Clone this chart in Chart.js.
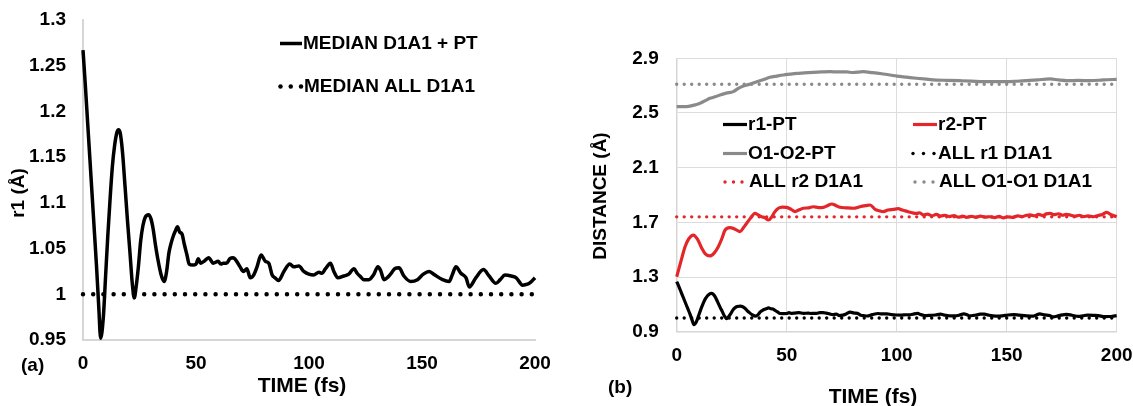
<!DOCTYPE html>
<html>
<head>
<meta charset="utf-8">
<script src="https://cdn.jsdelivr.net/npm/chart.js@4"></script>
<style>
  html, body { margin: 0; padding: 0; background: #fff; width: 1133px; height: 406px; overflow: hidden; }
  canvas { position: absolute; top: 0; }
  #panelA { left: 0; }
  #panelB { left: 560px; }
</style>
</head>
<body>
<canvas id="panelA" width="560" height="406"></canvas>
<canvas id="panelB" width="573" height="406"></canvas>
<script>
// ---- tick labels ----
const timeTicks = [0, 50, 100, 150, 200];
const r1Ticks = [0.95, 1, 1.05, 1.1, 1.15, 1.2, 1.25, 1.3];
const distTicks = [0.9, 1.3, 1.7, 2.1, 2.5, 2.9];

// ---- r1 (Å) vs time (fs), median D1A1 + PT ----
const r1Time = [0, 1, 2, 3, 4, 5, 6, 7, 7.8, 9, 10, 11, 12, 13, 14, 15, 15.7, 16.5, 17.5, 18.6,
  19.7, 20.8, 21.8, 22.7, 23.5, 24.5, 25.5, 26.5, 27.5, 29, 30, 31, 32, 33, 34.5, 35.9, 37, 38, 39, 40,
  41, 41.8, 42.8, 43.8, 44.8, 46, 47, 48.5, 50, 51, 52, 53.5, 55.6, 57.6, 59.8, 61, 62, 63.5, 65, 66.5,
  68, 69.5, 71, 72.5, 74, 75.5, 77, 78.8, 80.7, 82.2, 83.7, 85, 86.5, 88.9, 91.5, 93.3, 95.5, 97.7, 99.9, 102,
  104.4, 105.8, 107.3, 109.5, 111, 112.8, 115.4, 117.6, 119.9, 121.3, 122.5, 124.3, 126.5, 128.5, 130.5, 131.7, 133.2, 135, 136.4, 137.9,
  139.8, 142, 145, 148, 150.6, 153.2, 155.7, 159.1, 162, 163.5, 165, 167.2, 169.5, 170.9, 173.8, 177.2, 179.7, 182.7, 184.6, 186.7,
  189.4, 191.7, 194.5, 196.7, 198, 200];
const r1Value = [1.267, 1.23, 1.19, 1.15, 1.11, 1.07, 1.03, 0.985, 0.952, 0.975, 1.02, 1.065, 1.105, 1.14, 1.163, 1.177, 1.18, 1.176, 1.155, 1.118,
  1.08, 1.045, 1.012, 0.996, 1.008, 1.03, 1.058, 1.075, 1.084, 1.087, 1.083, 1.072, 1.055, 1.04, 1.022, 1.014, 1.025, 1.045, 1.056, 1.064,
  1.07, 1.074, 1.068, 1.066, 1.055, 1.043, 1.033, 1.032, 1.033, 1.039, 1.034, 1.036, 1.04, 1.034, 1.036, 1.033, 1.034, 1.034, 1.039, 1.04,
  1.036, 1.03, 1.025, 1.028, 1.018, 1.021, 1.03, 1.043, 1.036, 1.034, 1.021, 1.018, 1.015, 1.025, 1.033, 1.03, 1.031, 1.025, 1.022, 1.021,
  1.024, 1.023, 1.028, 1.034, 1.025, 1.018, 1.02, 1.022, 1.028, 1.023, 1.02, 1.016, 1.016, 1.021, 1.03, 1.026, 1.016, 1.019, 1.023, 1.028,
  1.029, 1.02, 1.014, 1.016, 1.022, 1.025, 1.021, 1.016, 1.014, 1.022, 1.03, 1.023, 1.018, 1.008, 1.018, 1.027, 1.02, 1.012, 1.016, 1.021,
  1.02, 1.018, 1.01, 1.011, 1.013, 1.018];

// ---- r2 (Å) vs time (fs), PT ----
const r2Time = [0, 2, 3.8, 5.5, 7.6, 9.5, 11.4, 13, 15.1, 17, 18.9, 20.5, 22, 24.2, 26.5, 28.8, 30.3, 31.8, 33.5, 35.6,
  37, 38.6, 40, 41.7, 43.2, 44.5, 46.2, 48, 50, 52, 53.8, 55.5, 57.6, 60, 62.1, 64.5, 66.7, 68.5, 70.5, 72.5,
  74.2, 77, 80.3, 83.3, 86, 87.9, 90.2, 92, 93.9, 96, 98.5, 100.7, 102.5, 105.2, 107, 109, 110.5, 112.1, 114, 116,
  118, 120, 122, 124, 126, 128, 130, 131.8, 134, 136, 138, 140, 142.4, 144.5, 146.5, 148.5, 150.5, 153, 155, 157,
  159, 160.6, 162.5, 164.5, 166.5, 168, 169.7, 171.5, 173.5, 175.5, 177, 178.8, 181, 183, 185, 187, 189.4, 191.5, 193.5, 195.5,
  197.5, 200];
const r2Value = [1.302, 1.42, 1.522, 1.58, 1.607, 1.575, 1.51, 1.47, 1.454, 1.475, 1.522, 1.58, 1.644, 1.661, 1.65, 1.632, 1.66, 1.693, 1.73, 1.766,
  1.755, 1.741, 1.735, 1.717, 1.74, 1.775, 1.803, 1.812, 1.81, 1.795, 1.778, 1.79, 1.803, 1.806, 1.814, 1.808, 1.81, 1.822, 1.834, 1.822,
  1.81, 1.806, 1.803, 1.814, 1.822, 1.827, 1.795, 1.785, 1.778, 1.79, 1.795, 1.8, 1.79, 1.778, 1.77, 1.765, 1.77, 1.754, 1.76, 1.748,
  1.758, 1.746, 1.752, 1.742, 1.75, 1.738, 1.745, 1.737, 1.744, 1.736, 1.746, 1.738, 1.741, 1.735, 1.744, 1.733, 1.74, 1.737, 1.748, 1.742,
  1.752, 1.754, 1.748, 1.758, 1.75, 1.762, 1.766, 1.756, 1.763, 1.752, 1.758, 1.754, 1.745, 1.752, 1.742, 1.748, 1.741, 1.75, 1.758, 1.773,
  1.755, 1.741];

// ---- O1-O2 distance (Å) vs time (fs), PT ----
const ooTime = [0, 3, 6, 8.5, 10.6, 13, 15.1, 17.5, 19.7, 22.5, 25.7, 28, 30.3, 33.5, 36.4, 39.5, 42.4, 45.5, 48.5, 51.5,
  54.5, 58, 62.1, 66, 69.7, 73.5, 77.3, 80, 84.8, 89, 93.9, 97, 100, 104.5, 109, 113.5, 118.2, 123, 128.8, 134,
  139.4, 144.5, 150, 154.5, 159.1, 164, 169.7, 173.5, 177.3, 182.5, 187.9, 194, 200];
const ooValue = [2.546, 2.546, 2.55, 2.56, 2.571, 2.59, 2.607, 2.618, 2.632, 2.645, 2.656, 2.68, 2.697, 2.712, 2.729, 2.745, 2.761, 2.77, 2.778, 2.784,
  2.79, 2.793, 2.797, 2.8, 2.802, 2.8, 2.8, 2.796, 2.802, 2.795, 2.785, 2.778, 2.77, 2.762, 2.754, 2.747, 2.741, 2.739, 2.736, 2.733,
  2.729, 2.73, 2.729, 2.732, 2.736, 2.742, 2.749, 2.742, 2.736, 2.738, 2.736, 2.742, 2.746];

// ---- reference medians over all D1A1 structures (Å) ----
const medianAllD1A1 = 1.0;
const allR1D1A1 = 1.0;
const allR2D1A1 = 1.74;
const allO1O1D1A1 = 2.71;

// ---- helpers ----
const FONT_FAMILY = '"Liberation Sans", Arial, sans-serif';
const tMin = timeTicks[0], tMax = timeTicks[timeTicks.length - 1];
const pts = (ts, vs) => ts.map((t, i) => ({ x: t, y: vs[i] }));
const flat = v => [{ x: tMin, y: v }, { x: tMax, y: v }];

function drawSample(ctx, ds, x0, x1, y) {
  ctx.save();
  ctx.strokeStyle = ds.borderColor;
  ctx.fillStyle = ds.borderColor;
  if (ds.borderDash && ds.borderDash.length) {
    const r = ds.borderWidth / 2;
    for (let k = 0; k < 3; k++) {
      const x = x0 + (x1 - x0) * k / 2;
      ctx.beginPath();
      ctx.arc(x, y, r, 0, Math.PI * 2);
      ctx.fill();
    }
  } else {
    ctx.lineWidth = ds.borderWidth;
    ctx.beginPath();
    ctx.moveTo(x0, y);
    ctx.lineTo(x1, y);
    ctx.stroke();
  }
  ctx.restore();
}

// legend entries and axis captions drawn on top of each panel
const panelText = {
  id: 'panelText',
  afterDraw(chart, args, opts) {
    const ctx = chart.ctx;
    ctx.save();
    ctx.fillStyle = '#000';
    ctx.textBaseline = 'middle';
    (opts.legend || []).forEach(item => {
      const ds = chart.data.datasets[item.index];
      drawSample(ctx, ds, item.x0, item.x1, item.y);
      ctx.font = 'bold 19px ' + FONT_FAMILY;
      ctx.textAlign = 'left';
      ctx.fillStyle = '#000';
      ctx.fillText(ds.label, item.tx, item.y);
    });
    (opts.texts || []).forEach(t => {
      ctx.save();
      ctx.font = 'bold ' + t.size + 'px ' + FONT_FAMILY;
      ctx.textAlign = t.align || 'center';
      ctx.translate(t.x, t.y);
      if (t.rot) ctx.rotate(t.rot);
      ctx.fillText(t.text, 0, 0);
      ctx.restore();
    });
    ctx.restore();
  }
};

function axisFont() { return { family: FONT_FAMILY, size: 19, weight: 'bold' }; }

// fixed-size axis boxes so the plot areas sit where intended
function fitX(h) { return s => { s.height = h; s.paddingLeft = 0; s.paddingRight = 0; }; }
function fitY(w) { return s => { s.width = w; s.paddingTop = 0; s.paddingBottom = 0; }; }

// ---- panel (a) ----
new Chart(document.getElementById('panelA'), {
  type: 'line',
  data: {
    datasets: [
      { label: 'MEDIAN D1A1 + PT', data: pts(r1Time, r1Value), borderColor: '#000', borderWidth: 3.5,
        pointRadius: 0, cubicInterpolationMode: 'monotone', clip: false },
      { label: 'MEDIAN ALL D1A1', data: flat(medianAllD1A1), borderColor: '#000', borderWidth: 4.5,
        borderDash: [0, 10.2], borderCapStyle: 'round', pointRadius: 0, clip: false }
    ]
  },
  options: {
    responsive: false, animation: false, devicePixelRatio: 1,
    layout: { padding: { left: 0, right: 25, top: 20, bottom: 0 } },
    plugins: {
      legend: { display: false }, tooltip: { enabled: false },
      panelText: {
        legend: [
          { index: 0, x0: 280, x1: 302, y: 43.5, tx: 303 },
          { index: 1, x0: 280.5, x1: 301, y: 86.5, tx: 304 }
        ],
        texts: [
          { text: 'r1 (Å)', x: 18.5, y: 193, size: 19, rot: -Math.PI / 2 },
          { text: 'TIME (fs)', x: 302, y: 386, size: 21 },
          { text: '(a)', x: 21, y: 366, size: 19, align: 'left' }
        ]
      }
    },
    scales: {
      x: {
        type: 'linear', min: tMin, max: tMax,
        afterBuildTicks: s => { s.ticks = timeTicks.map(v => ({ value: v })); },
        afterFit: fitX(66),
        grid: { display: false, drawTicks: false, tickLength: 0 },
        border: { display: true, color: '#d6d6d6', width: 2 },
        ticks: { autoSkip: false, maxRotation: 0, padding: 12, color: '#000', font: axisFont(),
          callback: v => String(v) }
      },
      y: {
        type: 'linear', min: r1Ticks[0], max: r1Ticks[r1Ticks.length - 1],
        afterBuildTicks: s => { s.ticks = r1Ticks.map(v => ({ value: v })); },
        afterFit: fitY(83),
        grid: { display: false, drawTicks: false, tickLength: 0 },
        border: { display: true, color: '#d6d6d6', width: 2 },
        ticks: { autoSkip: false, padding: 17, color: '#000', font: axisFont(),
          callback: v => String(v) }
      }
    }
  },
  plugins: [panelText]
});

// ---- panel (b) ----
const RED = '#e4262b';
const GREY = '#8a8a8a';
new Chart(document.getElementById('panelB'), {
  type: 'line',
  data: {
    datasets: [
      { label: 'r1-PT', data: pts(r1Time, r1Value), borderColor: '#000', borderWidth: 3.2,
        pointRadius: 0, cubicInterpolationMode: 'monotone', clip: false },
      { label: 'r2-PT', data: pts(r2Time, r2Value), borderColor: RED, borderWidth: 3.2,
        pointRadius: 0, cubicInterpolationMode: 'monotone', clip: false },
      { label: 'O1-O2-PT', data: pts(ooTime, ooValue), borderColor: GREY, borderWidth: 3.2,
        pointRadius: 0, cubicInterpolationMode: 'monotone', clip: false },
      { label: 'ALL r1 D1A1', data: flat(allR1D1A1), borderColor: '#000', borderWidth: 3.4,
        borderDash: [0, 7.5], borderCapStyle: 'round', pointRadius: 0, clip: false },
      { label: 'ALL r2 D1A1', data: flat(allR2D1A1), borderColor: RED, borderWidth: 3.4,
        borderDash: [0, 7.5], borderCapStyle: 'round', pointRadius: 0, clip: false },
      { label: 'ALL O1-O1 D1A1', data: flat(allO1O1D1A1), borderColor: GREY, borderWidth: 3.4,
        borderDash: [0, 7.5], borderCapStyle: 'round', pointRadius: 0, clip: false }
    ]
  },
  options: {
    responsive: false, animation: false, devicePixelRatio: 1,
    layout: { padding: { left: 0, right: 16.3, top: 58.3, bottom: 0 } },
    plugins: {
      legend: { display: false }, tooltip: { enabled: false },
      panelText: {
        legend: [
          { index: 0, x0: 163, x1: 187, y: 124.5, tx: 188 },
          { index: 1, x0: 353, x1: 377, y: 124.5, tx: 378 },
          { index: 2, x0: 163, x1: 187, y: 153.5, tx: 188 },
          { index: 3, x0: 353, x1: 374, y: 153.5, tx: 378 },
          { index: 4, x0: 165, x1: 182, y: 182, tx: 189 },
          { index: 5, x0: 355, x1: 373, y: 182, tx: 379 }
        ],
        texts: [
          { text: 'DISTANCE (Å)', x: 41, y: 196, size: 19, rot: -Math.PI / 2 },
          { text: 'TIME (fs)', x: 313, y: 397, size: 21 },
          { text: '(b)', x: 48, y: 388, size: 19, align: 'left' }
        ]
      }
    },
    scales: {
      x: {
        type: 'linear', min: tMin, max: tMax,
        afterBuildTicks: s => { s.ticks = timeTicks.map(v => ({ value: v })); },
        afterFit: fitX(74.3),
        grid: { display: true, color: '#dcdcdc', lineWidth: 1, drawTicks: false, tickLength: 0 },
        border: { display: true, color: '#d6d6d6', width: 1.5 },
        ticks: { autoSkip: false, maxRotation: 0, padding: 13, color: '#000', font: axisFont(),
          callback: v => String(v) }
      },
      y: {
        type: 'linear', min: distTicks[0], max: distTicks[distTicks.length - 1],
        afterBuildTicks: s => { s.ticks = distTicks.map(v => ({ value: v })); },
        afterFit: fitY(116.7),
        grid: { display: true, color: '#dcdcdc', lineWidth: 1, drawTicks: false, tickLength: 0 },
        border: { display: true, color: '#d6d6d6', width: 1.5 },
        ticks: { autoSkip: false, padding: 18, color: '#000', font: axisFont(),
          callback: v => String(v) }
      }
    }
  },
  plugins: [panelText]
});
</script>
</body>
</html>
